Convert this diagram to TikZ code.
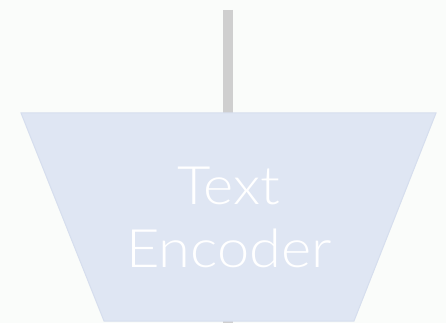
\documentclass[tikz,border=0pt]{standalone}
\usepackage{fontspec}
\setmainfont{Lato Light}
\definecolor{bgcol}{RGB}{250,252,250}
\definecolor{encfill}{RGB}{223,230,243}
\definecolor{encedge}{RGB}{214,222,238}
\definecolor{stem}{RGB}{207,207,207}
\tikzset{
  stemline/.style={draw=stem, line width=10pt},
  encoder/.style={fill=encfill, draw=encedge, line width=1pt, line join=miter},
  enclabel/.style={text=white, align=center, font=\fontsize{53}{63}\selectfont, inner sep=0pt, xscale=1.09}
}
\begin{document}
\begin{tikzpicture}[x=1pt,y=-1pt]
  % canvas
  \fill[bgcol] (0,0) rectangle (446,323);
  \useasboundingbox (0,0) rectangle (446,323);
  % input stem passing through the encoder
  \coordinate (in) at (228,10);
  \coordinate (out) at (228,330);
  \draw[stemline] (in) -- (out);
  % trapezoid encoder
  \path[encoder] (21,113) coordinate (tl) -- (436,113) coordinate (tr)
        -- (354,321) coordinate (br) -- (104,321) coordinate (bl) -- cycle;
  \node[enclabel] (label) at (229,217) {Text\\Encoder};
\end{tikzpicture}
\end{document}
